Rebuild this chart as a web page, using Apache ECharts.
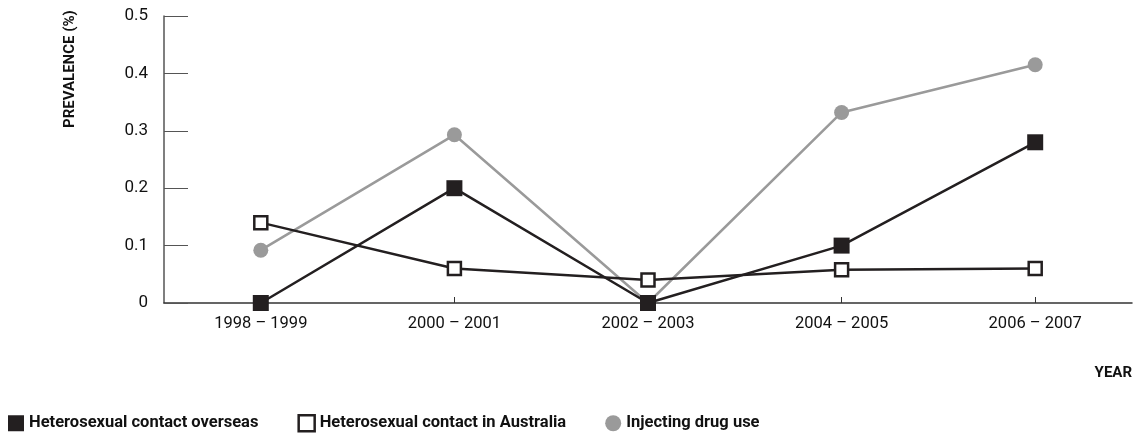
<!DOCTYPE html>
<html>
<head>
<meta charset="utf-8">
<script src="https://cdn.jsdelivr.net/npm/echarts@6/dist/echarts.min.js"></script>
<style>html,body{margin:0;padding:0;background:#fff}#c{width:1137px;height:434px}</style>
</head>
<body>
<div id="c"></div>
<script>
const categories = ['1998 – 1999', '2000 – 2001', '2002 – 2003', '2004 – 2005', '2006 – 2007'];
const overseas = [0, 0.2, 0, 0.1, 0.28];
const australia = [0.14, 0.06, 0.04, 0.058, 0.06];
const injecting = [0.092, 0.293, 0, 0.332, 0.415];
const yTicks = [0, 0.1, 0.2, 0.3, 0.4, 0.5];
const seriesNames = ['Heterosexual contact overseas', 'Heterosexual contact in Australia', 'Injecting drug use'];

const FONT = 'Roboto, "Liberation Sans", sans-serif';
const BLACK = '#231f20';
const GREY = '#9a9a9a';

const chart = echarts.init(document.getElementById('c'), null, {renderer: 'canvas'});
chart.setOption({
  animation: false,
  backgroundColor: '#fff',
  grid: {left: 164, top: 16, right: 5, bottom: 131, containLabel: false},
  xAxis: {
    type: 'category',
    data: categories,
    boundaryGap: true,
    axisLine: {lineStyle: {color: '#333', width: 1.5}},
    axisTick: {show: true, inside: true, length: 6, alignWithLabel: true, lineStyle: {color: '#333', width: 1}},
    axisLabel: {color: '#111', fontFamily: FONT, fontSize: 16.5, margin: 12},
    splitLine: {show: false}
  },
  yAxis: {
    type: 'value',
    min: yTicks[0],
    max: yTicks[yTicks.length - 1],
    interval: 0.1,
    axisLine: {show: true, lineStyle: {color: '#555', width: 1.5}},
    axisTick: {show: true, inside: true, length: 24, lineStyle: {color: '#555', width: 1}},
    axisLabel: {color: '#111', fontFamily: FONT, fontSize: 17, margin: 16,
      formatter: v => (v === 0 ? '0' : String(Math.round(v * 10) / 10))},
    splitLine: {show: false}
  },
  legend: {
    left: 8, top: 414, padding: 0, itemWidth: 16, itemHeight: 16, itemGap: 39,
    textStyle: {fontFamily: FONT, fontSize: 16.5, fontWeight: 'bold', color: '#111'},
    data: [
      {name: seriesNames[0], icon: 'rect', itemStyle: {color: BLACK, borderWidth: 0}},
      {name: seriesNames[1], icon: 'rect', itemStyle: {color: '#fff', borderColor: BLACK, borderWidth: 2.5}},
      {name: seriesNames[2], icon: 'circle', itemStyle: {color: GREY, borderWidth: 0}}
    ]
  },
  graphic: [
    {type: 'text', x: 70, y: 128, rotation: Math.PI / 2,
      style: {text: 'PREVALENCE (%)', fill: '#111', font: 'bold 15px ' + FONT, textAlign: 'left', textVerticalAlign: 'middle'}},
    {type: 'text', x: 1132, y: 373,
      style: {text: 'YEAR', fill: '#111', font: 'bold 15px ' + FONT, textAlign: 'right', textVerticalAlign: 'middle'}}
  ],
  series: [
    {name: seriesNames[2], type: 'line', data: injecting, z: 2,
      symbol: 'circle', symbolSize: 15,
      lineStyle: {color: GREY, width: 2.5},
      itemStyle: {color: GREY, borderWidth: 0}},
    {name: seriesNames[1], type: 'line', data: australia, z: 3,
      symbol: 'rect', symbolSize: 13,
      lineStyle: {color: BLACK, width: 2.5},
      itemStyle: {color: '#fff', borderColor: BLACK, borderWidth: 2.5}},
    {name: seriesNames[0], type: 'line', data: overseas, z: 4,
      symbol: 'rect', symbolSize: 16,
      lineStyle: {color: BLACK, width: 2.5},
      itemStyle: {color: BLACK, borderWidth: 0}}
  ]
});
</script>
</body>
</html>
